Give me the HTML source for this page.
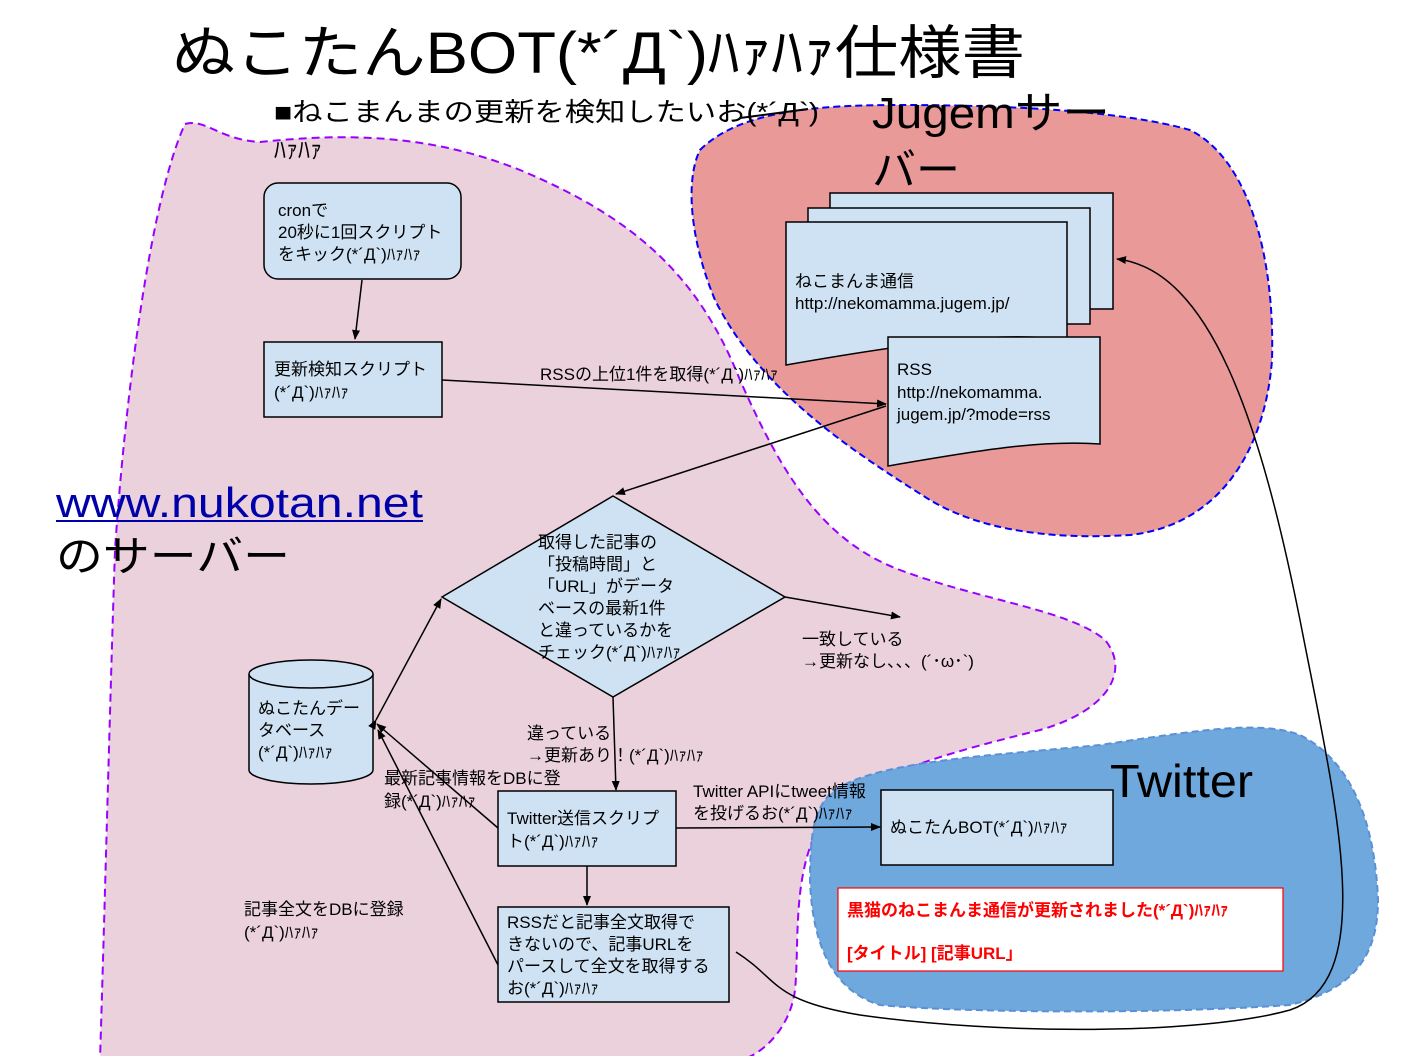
<!DOCTYPE html>
<html><head><meta charset="utf-8"><style>
body{margin:0;background:#fff}
svg{display:block}
text{font-family:"Liberation Sans","Noto Sans CJK JP",sans-serif;fill:#000}
</style></head><body>
<svg width="1424" height="1056" viewBox="0 0 1424 1056" xmlns="http://www.w3.org/2000/svg">
<defs><marker id="a" markerWidth="10" markerHeight="10" refX="9" refY="5" orient="auto" markerUnits="userSpaceOnUse"><path d="M0,1 L10,5 L0,9 z" fill="#000"/></marker></defs>
<path d="M185,124 C205,118 220,140 260,142 C330,135 420,130 520,170 C640,220 700,280 740,380 C780,470 820,540 900,570 C980,600 1070,610 1105,640 C1130,670 1110,710 1040,730 C960,750 880,770 830,810 C790,860 800,940 795,990 C790,1030 760,1056 740,1060 L100,1060 C105,900 110,700 115,550 C125,400 150,200 185,124 Z" fill="#ead1dc" stroke="#9900ff" stroke-width="2" stroke-dasharray="8,5"/>
<path d="M700,150 C740,110 820,105 900,105 C1000,105 1120,110 1190,130 C1250,160 1275,260 1272,360 C1265,450 1220,525 1130,535 C1050,540 980,530 930,500 C850,450 760,390 715,300 C690,240 685,180 700,150 Z" fill="#ea9999" stroke="#0000ff" stroke-width="2" stroke-dasharray="7,4"/>
<path d="M835,790 C880,760 1000,755 1100,745 C1200,730 1260,720 1300,735 C1350,760 1375,820 1378,900 C1378,960 1350,990 1290,1005 C1150,1015 950,1012 880,1005 C830,990 812,940 810,880 C810,830 815,805 835,790 Z" fill="#6fa8dc" stroke="#5b8fd6" stroke-width="2" stroke-dasharray="7,4"/>

<text x="172" y="73" font-size="58" textLength="853" lengthAdjust="spacingAndGlyphs">ぬこたんBOT(*´Д`)ﾊｧﾊｧ仕様書</text>
<text x="274" y="121" font-size="26" textLength="545" lengthAdjust="spacingAndGlyphs">■ねこまんまの更新を検知したいお(*´Д`)</text>
<text x="274" y="158" font-size="24">ﾊｧﾊｧ</text>
<text x="872" y="128" font-size="44" textLength="238" lengthAdjust="spacingAndGlyphs">Jugemサー</text>
<text x="872" y="185" font-size="44">バー</text>
<line x1="740" y1="118" x2="808" y2="109" stroke="#000" stroke-width="2"/>

<text x="56" y="517" font-size="42" style="fill:#0000aa" textLength="367" lengthAdjust="spacingAndGlyphs">www.nukotan.net</text>
<line x1="56" y1="521" x2="423" y2="521" stroke="#0000aa" stroke-width="2"/>
<text x="56" y="571" font-size="42" textLength="234" lengthAdjust="spacingAndGlyphs">のサーバー</text>
<text x="1110" y="797" font-size="46" textLength="143" lengthAdjust="spacingAndGlyphs">Twitter</text>

<rect x="264" y="183" width="197" height="96" rx="14" fill="#cfe2f3" stroke="#000" stroke-width="1.5"/>
<g font-size="17"><text x="278" y="216">cronで</text><text x="278" y="238">20秒に1回スクリプト</text><text x="278" y="260">をキック(*´Д`)ﾊｧﾊｧ</text></g>
<line x1="362" y1="280" x2="355" y2="339" stroke="#000" stroke-width="1.5" marker-end="url(#a)"/>
<rect x="264" y="342" width="178" height="75" fill="#cfe2f3" stroke="#000" stroke-width="1.5"/>
<g font-size="17"><text x="274" y="375">更新検知スクリプト</text><text x="274" y="398">(*´Д`)ﾊｧﾊｧ</text></g>
<line x1="442" y1="380" x2="886" y2="404" stroke="#000" stroke-width="1.5" marker-end="url(#a)"/>
<text x="540" y="380" font-size="17">RSSの上位1件を取得(*´Д`)ﾊｧﾊｧ</text>

<rect x="830" y="193" width="283" height="116" fill="#cfe2f3" stroke="#000" stroke-width="1.5"/>
<rect x="808" y="208" width="282" height="116" fill="#cfe2f3" stroke="#000" stroke-width="1.5"/>
<path d="M786,222 L1067,222 L1067,340 C1000,330 900,345 786,365 Z" fill="#cfe2f3" stroke="#000" stroke-width="1.5"/>
<g font-size="17"><text x="795" y="287">ねこまんま通信</text><text x="795" y="309">http://nekomamma.jugem.jp/</text></g>
<path d="M888,337 L1100,337 L1100,444 C1040,440 980,450 888,466 Z" fill="#cfe2f3" stroke="#000" stroke-width="1.5"/>
<g font-size="17"><text x="897" y="375">RSS</text><text x="897" y="398">http://nekomamma.</text><text x="897" y="420">jugem.jp/?mode=rss</text></g>
<line x1="886" y1="406" x2="616" y2="494" stroke="#000" stroke-width="1.5" marker-end="url(#a)"/>

<path d="M613,496 L785,597 L613,697 L442,597 Z" fill="#cfe2f3" stroke="#000" stroke-width="1.5"/>
<g font-size="17"><text x="538" y="548">取得した記事の</text><text x="538" y="570">「投稿時間」と</text><text x="538" y="592">「URL」がデータ</text><text x="538" y="614">ベースの最新1件</text><text x="538" y="636">と違っているかを</text><text x="538" y="658">チェック(*´Д`)ﾊｧﾊｧ</text></g>
<line x1="785" y1="597" x2="900" y2="617" stroke="#000" stroke-width="1.5" marker-end="url(#a)"/>
<g font-size="17"><text x="802" y="645">一致している</text><text x="802" y="667">→更新なし、、、(´･ω･`)</text></g>
<line x1="613" y1="697" x2="616" y2="790" stroke="#000" stroke-width="1.5" marker-end="url(#a)"/>
<g font-size="17"><text x="527" y="739">違っている</text><text x="527" y="761">→更新あり！(*´Д`)ﾊｧﾊｧ</text></g>

<path d="M249,674 L249,770 A62,14 0 0 0 373,770 L373,674" fill="#cfe2f3" stroke="#000" stroke-width="1.5"/>
<ellipse cx="311" cy="674" rx="62" ry="14" fill="#cfe2f3" stroke="#000" stroke-width="1.5"/>
<g font-size="17"><text x="258" y="714">ぬこたんデー</text><text x="258" y="736">タベース</text><text x="258" y="758">(*´Д`)ﾊｧﾊｧ</text></g>
<line x1="376" y1="720" x2="441" y2="599" stroke="#000" stroke-width="1.5" marker-start="url(#a)" marker-end="url(#a)"/>

<rect x="498" y="791" width="178" height="75" fill="#cfe2f3" stroke="#000" stroke-width="1.5"/>
<g font-size="17"><text x="507" y="824">Twitter送信スクリプ</text><text x="507" y="847">ト(*´Д`)ﾊｧﾊｧ</text></g>
<line x1="498" y1="828" x2="377" y2="724" stroke="#000" stroke-width="1.5" marker-end="url(#a)"/>
<g font-size="17"><text x="384" y="784">最新記事情報をDBに登</text><text x="384" y="807">録(*´Д`)ﾊｧﾊｧ</text></g>
<line x1="676" y1="828" x2="880" y2="827" stroke="#000" stroke-width="1.5" marker-end="url(#a)"/>
<g font-size="17"><text x="693" y="797">Twitter APIにtweet情報</text><text x="693" y="819">を投げるお(*´Д`)ﾊｧﾊｧ</text></g>
<line x1="587" y1="866" x2="587" y2="905" stroke="#000" stroke-width="1.5" marker-end="url(#a)"/>

<rect x="498" y="907" width="231" height="95" fill="#cfe2f3" stroke="#000" stroke-width="1.5"/>
<g font-size="17"><text x="507" y="928">RSSだと記事全文取得で</text><text x="507" y="950">きないので、記事URLを</text><text x="507" y="972">パースして全文を取得する</text><text x="507" y="994">お(*´Д`)ﾊｧﾊｧ</text></g>
<line x1="498" y1="965" x2="378" y2="730" stroke="#000" stroke-width="1.5" marker-end="url(#a)"/>
<g font-size="17"><text x="244" y="915">記事全文をDBに登録</text><text x="244" y="938">(*´Д`)ﾊｧﾊｧ</text></g>

<rect x="881" y="790" width="232" height="75" fill="#cfe2f3" stroke="#000" stroke-width="1.5"/>
<text x="890" y="833" font-size="17">ぬこたんBOT(*´Д`)ﾊｧﾊｧ</text>
<rect x="838" y="888" width="445" height="83" fill="#fff" stroke="#ff0000" stroke-width="1.2"/>
<g font-size="17" font-weight="bold"><text x="847" y="916" style="fill:#ff0000">黒猫のねこまんま通信が更新されました(*´Д`)ﾊｧﾊｧ</text><text x="847" y="959" style="fill:#ff0000">[タイトル] [記事URL」</text></g>

<path d="M736,952 C780,980 770,1000 860,1015 C1000,1035 1200,1035 1290,1010 C1380,980 1335,800 1300,620 C1260,420 1210,270 1117,259" fill="none" stroke="#000" stroke-width="1.5" marker-end="url(#a)"/>
</svg>
</body></html>
